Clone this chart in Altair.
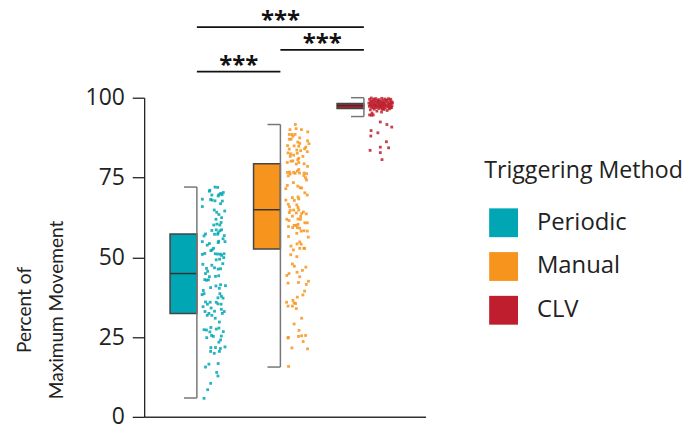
import altair as alt
import pandas as pd

groups = ["Periodic", "Manual", "CLV"]
colors = ["#00A6B4", "#F7941D", "#BE1E2D"]

# box statistics
q1 = [32.4, 52.6, 96.6]
median = [44.9, 64.9, 97.5]
q3 = [57.3, 79.3, 98.2]
whisk_lo = [5.9, 15.6, 94.1]
whisk_hi = [72.0, 91.6, 100.0]

# (value, jitter fraction) for each plotted point
periodic_points = [
    (72.0, 0.56), (71.9, 0.67), (71.0, 0.35), (70.7, 0.33), (70.3, 0.90), (70.0, 0.79),
    (69.6, 0.72), (69.2, 0.69), (69.6, 0.85), (69.5, 0.43), (68.2, 0.04), (68.1, 0.38),
    (67.9, 0.44), (67.7, 0.56), (67.6, 0.86), (66.8, 0.79), (65.9, 0.04), (64.8, 0.53),
    (64.5, 0.96), (64.1, 0.63), (63.4, 0.72), (62.4, 0.83), (61.9, 0.60), (60.1, 0.51),
    (60.4, 0.64), (60.9, 0.81), (60.1, 0.76), (58.4, 0.43), (58.6, 0.61), (58.3, 0.76),
    (58.6, 0.83), (57.7, 0.69), (57.2, 0.67), (57.2, 0.54), (57.3, 0.17), (56.7, 0.11),
    (56.8, 0.94), (55.8, 0.89), (55.0, 0.71), (54.9, 0.97), (54.9, 0.04), (54.3, 0.33),
    (53.8, 0.24), (54.6, 0.69), (52.8, 0.50), (52.3, 0.44), (52.1, 0.39), (51.2, 0.14),
    (51.1, 0.57), (51.0, 0.78), (51.0, 0.67), (51.1, 0.93), (50.6, 0.83), (49.9, 0.92),
    (49.4, 0.75), (49.2, 0.61), (50.9, 0.04), (47.8, 0.06), (47.5, 0.43), (46.7, 0.54),
    (46.3, 0.69), (48.0, 0.88), (46.4, 0.79), (46.5, 0.21), (45.6, 0.26), (44.9, 0.17),
    (43.9, 0.33), (44.0, 0.58), (44.2, 0.71), (43.0, 0.14), (42.8, 0.21), (42.9, 0.29),
    (41.4, 0.79), (41.1, 0.99), (41.0, 0.60), (40.5, 0.38), (40.3, 0.74), (39.6, 0.08),
    (38.3, 0.03), (38.6, 0.11), (38.6, 0.76), (37.8, 0.82), (37.2, 0.89), (37.3, 0.68),
    (36.0, 0.17), (35.9, 0.36), (35.3, 0.25), (35.9, 0.61), (35.4, 0.68), (35.3, 0.81),
    (34.5, 0.07), (34.1, 0.40), (33.0, 0.15), (33.1, 0.54), (33.7, 0.82), (33.0, 0.94),
    (32.4, 0.86), (32.4, 0.31), (31.8, 0.43), (31.8, 0.24), (30.9, 0.57), (29.7, 0.74),
    (27.3, 0.11), (27.5, 0.61), (27.8, 0.72), (27.2, 0.21), (28.0, 0.39), (26.6, 0.35),
    (25.5, 0.42), (24.8, 0.22), (25.2, 0.49), (25.3, 0.82), (26.7, 0.90), (24.1, 0.79),
    (23.4, 0.72), (21.7, 0.39), (21.7, 0.58), (21.4, 0.78), (21.9, 0.97), (20.5, 0.74),
    (20.5, 0.38), (19.9, 0.53), (16.5, 0.31), (16.7, 0.69), (15.6, 0.17), (13.9, 0.63),
    (12.8, 0.68), (10.5, 0.38), (8.5, 0.26), (5.8, 0.11),
]

manual_points = [
    (91.6, 0.43), (90.0, 0.21), (90.3, 0.46), (90.0, 0.68), (89.3, 0.94), (88.5, 0.18),
    (88.5, 0.29), (88.5, 0.42), (87.9, 0.33), (87.4, 0.61), (87.0, 0.26), (87.0, 0.18),
    (86.1, 0.53), (86.5, 0.93), (85.7, 0.61), (85.6, 0.99), (84.9, 0.38), (84.5, 0.86),
    (84.8, 0.57), (85.0, 0.11), (84.0, 0.81), (83.4, 0.65), (83.9, 0.18), (83.6, 0.49),
    (83.1, 0.92), (82.6, 0.51), (82.7, 0.13), (82.4, 0.24), (82.0, 0.36), (81.6, 0.22),
    (81.6, 0.74), (81.0, 0.57), (80.6, 0.53), (80.2, 0.33), (79.2, 0.47), (79.7, 0.10),
    (79.3, 0.79), (80.1, 0.25), (79.7, 0.57), (78.5, 0.93), (77.5, 0.57), (76.6, 0.10),
    (76.7, 0.19), (76.6, 0.36), (77.0, 0.51), (76.1, 0.22), (76.4, 0.60), (76.4, 0.79),
    (76.2, 0.89), (76.3, 0.42), (74.9, 0.85), (75.5, 0.14), (75.6, 0.78), (74.2, 0.89),
    (73.4, 0.35), (72.3, 0.53), (71.8, 0.63), (71.7, 0.69), (72.5, 0.10), (71.5, 0.04),
    (70.2, 0.82), (69.5, 0.92), (68.9, 0.54), (68.7, 0.31), (67.8, 0.39), (67.9, 0.04),
    (66.6, 0.14), (68.3, 0.57), (65.8, 0.19), (66.4, 0.49), (64.7, 0.22), (64.8, 0.36),
    (65.6, 0.54), (64.2, 0.76), (64.8, 0.57), (64.0, 0.18), (63.9, 0.47), (62.9, 0.31),
    (63.7, 0.69), (62.8, 0.65), (63.6, 0.88), (61.9, 0.64), (61.9, 0.08), (62.0, 0.54),
    (61.5, 0.17), (60.0, 0.46), (60.0, 0.38), (60.3, 0.54), (60.8, 0.82), (60.8, 0.92),
    (59.3, 0.51), (58.2, 0.67), (58.3, 0.78), (58.2, 0.92), (59.6, 0.15), (59.3, 0.32),
    (59.1, 0.61), (57.5, 0.49), (56.3, 0.96), (56.5, 0.15), (54.8, 0.61), (54.1, 0.67),
    (54.2, 0.50), (53.5, 0.25), (52.8, 0.78), (52.3, 0.35), (52.8, 0.61), (50.2, 0.49),
    (52.8, 0.81), (50.8, 0.24), (47.9, 0.31), (47.2, 0.39), (46.9, 0.86), (45.9, 0.72),
    (45.3, 0.50), (44.9, 0.17), (44.3, 0.08), (43.9, 0.61), (42.5, 0.97), (41.9, 0.13),
    (42.1, 0.56), (41.5, 0.88), (39.4, 0.81), (38.2, 0.74), (37.5, 0.51), (36.5, 0.33),
    (35.5, 0.44), (35.9, 0.07), (35.7, 0.38), (34.7, 0.13), (34.7, 0.31), (33.9, 0.47),
    (30.9, 0.69), (29.1, 0.38), (27.1, 0.58), (24.9, 0.14), (25.2, 0.56), (25.4, 0.69),
    (25.5, 0.85), (24.7, 0.13), (23.6, 0.75), (21.6, 0.29), (21.3, 0.93), (15.8, 0.15),
]

clv_points = [
    (99.9, 0.12), (99.8, 0.55), (99.7, 0.83), (99.7, 0.31), (99.6, 0.67), (99.5, 0.05),
    (99.5, 0.92), (99.4, 0.44), (99.3, 0.21), (99.3, 0.76), (99.2, 0.38), (99.1, 0.60),
    (99.0, 0.14), (99.0, 0.88), (98.9, 0.49), (98.9, 0.27), (98.8, 0.71), (98.7, 0.96),
    (98.7, 0.09), (98.6, 0.53), (98.6, 0.34), (98.5, 0.80), (98.5, 0.18), (98.4, 0.63),
    (98.4, 0.41), (98.3, 0.93), (98.3, 0.02), (98.2, 0.58), (98.2, 0.25), (98.1, 0.85),
    (98.1, 0.47), (98.0, 0.11), (98.0, 0.69), (97.9, 0.36), (97.9, 0.90), (97.8, 0.22),
    (97.8, 0.57), (97.7, 0.79), (97.7, 0.07), (97.6, 0.45), (97.6, 0.66), (97.5, 0.30),
    (97.5, 0.97), (97.5, 0.16), (97.4, 0.52), (97.4, 0.74), (97.3, 0.39), (97.3, 0.04),
    (97.2, 0.87), (97.2, 0.61), (97.1, 0.28), (97.1, 0.82), (97.0, 0.13), (97.0, 0.50),
    (96.9, 0.95), (96.9, 0.33), (96.8, 0.70), (96.8, 0.19), (96.7, 0.59), (96.6, 0.43),
    (96.5, 0.86), (96.4, 0.24), (96.3, 0.64), (96.2, 0.08), (96.0, 0.77), (95.8, 0.35),
    (95.5, 0.54), (95.2, 0.15), (94.6, 0.05), (94.5, 0.13), (94.6, 0.20), (99.6, 0.24),
    (99.2, 0.73), (98.8, 0.40), (98.4, 0.99), (98.0, 0.62), (97.6, 0.26), (97.2, 0.48),
    (96.8, 0.91), (96.4, 0.56), (92.4, 0.49), (91.6, 0.76), (90.8, 0.96), (89.7, 0.11),
    (89.0, 0.39), (88.0, 0.10), (86.2, 0.74), (84.5, 0.49), (84.3, 0.83), (83.5, 0.07),
    (82.8, 0.49), (80.6, 0.56),
]

# significance brackets: from group, to group, height (in % units), label
sig_from = [0, 1, 0]
sig_to = [2, 2, 1]
sig_level = [122.1, 115.0, 108.2]
sig_label = ["***", "***", "***"]

# ---- layout constants (x units: one group = 1) ----
BOX_OFF = 26 / 84
BOX_W = 27 / 84
CAP = 13 / 84
JIT0 = 4.5 / 84
JIT_W = 24.5 / 84
X_MAX = 283 / 84
FONT = "Open Sans"
TITLE_FONT = "Lato"

box_df = pd.DataFrame({
    "group": groups,
    "gi": [0, 1, 2],
    "q1": q1, "median": median, "q3": q3, "lo": whisk_lo, "hi": whisk_hi,
})
box_df["bl"] = box_df["gi"] + BOX_OFF
box_df["br"] = box_df["gi"] + BOX_OFF + BOX_W
box_df["cl"] = box_df["br"] - CAP

rows = []
for gi, (g, pts) in enumerate(zip(groups, [periodic_points, manual_points, clv_points])):
    for v, j in pts:
        rows.append({"group": g, "value": v,
                     "x": gi + BOX_OFF + BOX_W + JIT0 + j * JIT_W})
pts_df = pd.DataFrame(rows)

sig_df = pd.DataFrame({"f": sig_from, "t": sig_to, "level": sig_level, "label": sig_label})
sig_df["x1"] = sig_df["f"] + BOX_OFF + BOX_W
sig_df["x2"] = sig_df["t"] + BOX_OFF + BOX_W
sig_df["xm"] = (sig_df["x1"] + sig_df["x2"]) / 2

xscale = alt.Scale(domain=[0, X_MAX], nice=False, zero=False)
yscale = alt.Scale(domain=[0, 100], nice=False, zero=False)

color = alt.Color(
    "group:N",
    scale=alt.Scale(domain=groups, range=colors),
    sort=groups,
    legend=alt.Legend(
        title="Triggering Method",
        orient="none",
        legendX=342,
        legendY=63,
        direction="vertical",
        symbolType="square",
        symbolSize=841,
        symbolStrokeWidth=0,
        symbolOpacity=1,
        symbolOffset=5,
        labelOffset=19,
        labelFontSize=24,
        labelFont=FONT,
        labelColor="#222222",
        labelLimit=0,
        titleFontSize=23.3,
        titleFont=FONT,
        titleFontWeight="normal",
        titleColor="#222222",
        titleLimit=0,
        titlePadding=25,
        rowPadding=15,
    ),
)

x_enc = alt.X("bl:Q", scale=xscale,
              axis=alt.Axis(labels=False, ticks=False, title=None, grid=False,
                            domainColor="#333333", domainWidth=1.5))
y_axis = alt.Axis(
    values=[0, 25, 50, 75, 100], grid=False, tickSize=12, tickColor="#111111",
    tickWidth=1.2, domainColor="#111111", domainWidth=1.2,
    labelFontSize=23, labelFont=FONT, labelColor="#222222", labelPadding=8,
    title=["Percent of", "Maximum Movement"], titleFont=TITLE_FONT, titleFontSize=19.2,
    titleFontWeight="normal", titleColor="#222222", titleAngle=270,
    titleX=-120, titleY=213, titleAlign="center", titleBaseline="middle",
    titleLineHeight=32,
)

base_box = alt.Chart(box_df)

boxes = base_box.mark_rect(stroke="#444444", strokeWidth=1.5).encode(
    x=x_enc, x2="br:Q",
    y=alt.Y("q1:Q", scale=yscale, axis=y_axis), y2="q3:Q",
    color=color,
)
medians = base_box.mark_rule(color="#333333", strokeWidth=1.5).encode(
    x="bl:Q", x2="br:Q", y="median:Q")
whisk = base_box.mark_rule(color="#777777", strokeWidth=1.5).encode(
    x="br:Q", y="lo:Q", y2="hi:Q")
cap_lo = base_box.mark_rule(color="#777777", strokeWidth=1.5).encode(
    x="cl:Q", x2="br:Q", y="lo:Q")
cap_hi = base_box.mark_rule(color="#777777", strokeWidth=1.5).encode(
    x="cl:Q", x2="br:Q", y="hi:Q")

points = alt.Chart(pts_df).mark_square(size=8, opacity=0.85).encode(
    x="x:Q", y="value:Q", color=color)

sig_bars = alt.Chart(sig_df).mark_rule(color="#111111", strokeWidth=1.8).encode(
    x="x1:Q", x2="x2:Q", y="level:Q")
sig_text = alt.Chart(sig_df).mark_text(
    font=FONT, fontSize=24, fontWeight="bold", color="#111111",
    baseline="alphabetic", dy=1,
).encode(x="xm:Q", y="level:Q", text="label:N")

chart = alt.layer(
    boxes, medians, whisk, cap_lo, cap_hi, points, sig_bars, sig_text
).properties(
    width=283, height=321,
    autosize=alt.AutoSizeParams(type="none"),
    padding={"left": 137, "top": 89, "right": 262, "bottom": 10},
).configure_view(stroke=None)

chart.save("out.html", embed_options={"renderer": "svg", "actions": False})
